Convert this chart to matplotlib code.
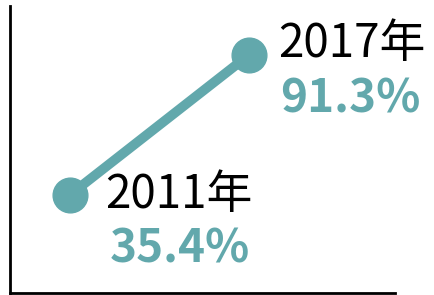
import matplotlib.pyplot as plt

years = [2011, 2017]
rates = [35.4, 91.3]
year_labels = ["2011年", "2017年"]
rate_labels = ["35.4%", "91.3%"]

teal = "#62a8ac"
plt.rcParams['font.family'] = ['Noto Sans CJK SC', 'DejaVu Sans']

fig = plt.figure(figsize=(4.35, 2.95), dpi=100)
ax = fig.add_axes([10 / 435, 2 / 295, 385 / 435, 287 / 295])

ax.plot(years, rates, color=teal, linewidth=7, marker='o', markersize=25,
        solid_capstyle='butt')

# label offsets (pixels) for each point
year_off = [(35, -13), (29, -2)]
rate_off = [(40, -67), (31, -57)]
for x, y, yl, rl, yo, ro in zip(years, rates, year_labels, rate_labels, year_off, rate_off):
    ax.annotate(yl, (x, y), xytext=yo, textcoords='offset pixels',
                fontsize=33, color='black', va='baseline', ha='left')
    ax.annotate(rl, (x, y), xytext=ro, textcoords='offset pixels',
                fontsize=33, color=teal, fontweight='bold', va='baseline', ha='left')

ax.set_xlim(2009.0, 2021.9)
ax.set_ylim(-3.7, 110.9)
ax.spines['top'].set_visible(False)
ax.spines['right'].set_visible(False)
ax.spines['left'].set_linewidth(2)
ax.spines['bottom'].set_linewidth(2)
ax.set_xticks([])
ax.set_yticks([])

fig.savefig("out.png", dpi=100)
